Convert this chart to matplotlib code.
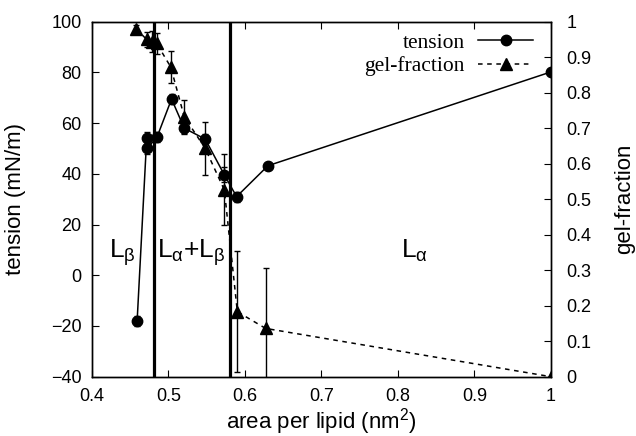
import matplotlib
matplotlib.use("Agg")
import matplotlib.pyplot as plt
from matplotlib.lines import Line2D

plt.rcParams['font.family'] = ['Liberation Sans', 'DejaVu Sans']
plt.rcParams['mathtext.fontset'] = 'custom'
plt.rcParams['mathtext.rm'] = 'Liberation Sans'
plt.rcParams['mathtext.it'] = 'Liberation Sans'
plt.rcParams['mathtext.bf'] = 'Liberation Sans:bold'

# tension data
t_area = [0.459, 0.4715, 0.472, 0.485, 0.504, 0.5206, 0.548, 0.573, 0.589, 0.630, 1.0]
t_val = [-18.0, 54.0, 50.0, 54.5, 69.5, 58.0, 53.7, 39.6, 31.0, 43.2, 80.2]
t_err = [2.0, 2.5, 2.0, 2.0, 2.0, 2.0, 2.0, 3.0, 2.0, 1.0, 0.0]

# gel-fraction data
g_area = [0.4575, 0.4715, 0.478, 0.4845, 0.503, 0.5206, 0.548, 0.573, 0.590, 0.627, 1.0]
g_val = [0.98, 0.95, 0.944, 0.939, 0.872, 0.732, 0.643, 0.526, 0.183, 0.136, 0.0]
g_err = [0.01, 0.02, 0.03, 0.03, 0.046, 0.047, 0.075, 0.10, 0.17, 0.17, 0.0]

# phase boundaries
boundaries = [0.481, 0.580]

x_ticks = [0.4, 0.5, 0.6, 0.7, 0.8, 0.9, 1.0]
x_ticklabels = ['0.4', '0.5', '0.6', '0.7', '0.8', '0.9', '1']
y_ticks = [-40, -20, 0, 20, 40, 60, 80, 100]
g_ticks = [0, 0.1, 0.2, 0.3, 0.4, 0.5, 0.6, 0.7, 0.8, 0.9, 1.0]
g_ticklabels = ['0', '0.1', '0.2', '0.3', '0.4', '0.5', '0.6', '0.7', '0.8', '0.9', '1']

fig = plt.figure(figsize=(6.36, 4.36), dpi=100)
ax = fig.add_axes([92/636, 1-376.7/436, (551-92)/636, (376.7-21.7)/436])
ax2 = ax.twinx()

ax.set_xlim(0.4, 1.0)
ax.set_ylim(-40, 100)
ax2.set_ylim(0, 1)

for b in boundaries:
    ax.axvline(b, color='black', lw=2.3, zorder=1)

ax.errorbar(t_area, t_val, yerr=t_err, color='black', lw=1.1, marker='o',
            markersize=7.5, capsize=2.5, elinewidth=1.0, capthick=1.0, zorder=3)
ax2.errorbar(g_area, g_val, yerr=g_err, color='black', lw=1.1, ls=(0, (3, 3)),
             marker='^', markersize=9, capsize=2.5, elinewidth=1.0, capthick=1.0,
             zorder=3)

ax.set_xticks(x_ticks)
ax.set_xticklabels(x_ticklabels)
ax.set_yticks(y_ticks)
ax2.set_yticks(g_ticks)
ax2.set_yticklabels(g_ticklabels)

ax.tick_params(axis='x', direction='in', top=True, length=5, labelsize=13, pad=8)
ax.tick_params(axis='y', direction='in', length=5, labelsize=13, pad=7.5)
ax2.tick_params(axis='y', direction='in', length=5, labelsize=13, pad=11)

ax.set_xlabel('area per lipid (nm$^2$)', fontsize=16, labelpad=1)
ax.set_ylabel('tension (mN/m)', fontsize=16, labelpad=18)
ax2.set_ylabel('gel-fraction', fontsize=16, labelpad=16)

for a in (ax, ax2):
    for s in a.spines.values():
        s.set_linewidth(1.0)

ax.text(0.422, 7, r'L$_{\beta}$', fontsize=19, ha='left', va='baseline')
ax.text(0.4845, 7, r'L$_{\alpha}$+L$_{\beta}$', fontsize=19, ha='left', va='baseline')
ax.text(0.804, 7, r'L$_{\alpha}$', fontsize=19, ha='left', va='baseline')

h1 = Line2D([], [], color='black', lw=1.1, marker='o', markersize=7.5)
h2 = Line2D([], [], color='black', lw=1.1, ls=(0, (3, 3)), marker='^', markersize=9)
leg = ax2.legend([h1, h2], ['tension', 'gel-fraction'], loc='upper right',
                 bbox_to_anchor=(0.99, 1.005), frameon=False, markerfirst=False,
                 prop={'family': 'Liberation Serif', 'size': 15.5},
                 handlelength=2.6, handletextpad=0.6, labelspacing=0.15,
                 borderaxespad=0.2)

fig.savefig('out.png', dpi=100)
